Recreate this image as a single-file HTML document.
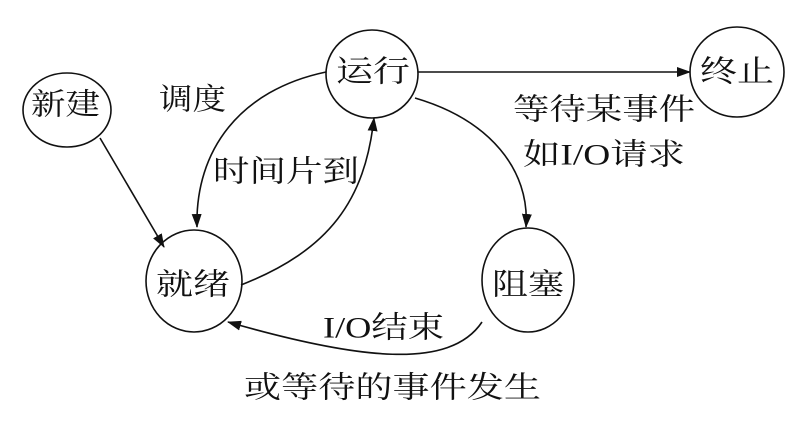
<!DOCTYPE html>
<html><head><meta charset="utf-8"><style>
html,body{margin:0;padding:0;background:#fff;}
svg{display:block;}
text{font-family:"Liberation Serif","Noto Serif CJK SC","Noto Sans CJK SC",serif;font-size:30px;fill:#111;}
</style></head><body>
<svg width="803" height="431" viewBox="0 0 803 431" xmlns="http://www.w3.org/2000/svg">
<defs><marker id="a" markerWidth="14" markerHeight="10" refX="13" refY="5" orient="auto" markerUnits="userSpaceOnUse"><path d="M0,0 L14,5 L0,10 Z" fill="#111"/></marker></defs>
<g fill="none" stroke="#111" stroke-width="1.6">
<ellipse cx="67" cy="110" rx="44" ry="37"/>
<ellipse cx="372" cy="74" rx="46" ry="44"/>
<ellipse cx="737" cy="72" rx="47" ry="45"/>
<ellipse cx="194" cy="281" rx="48" ry="51"/>
<ellipse cx="528" cy="280" rx="46" ry="52"/>
<path d="M100,138 L164,247" marker-end="url(#a)"/>
<path d="M418,72 L690,72" marker-end="url(#a)"/>
<path d="M326,72 C240,90 195,150 197,227" marker-end="url(#a)"/>
<path d="M241,285 C330,250 365,200 374,118" marker-end="url(#a)"/>
<path d="M415,98 C490,120 530,170 526,227" marker-end="url(#a)"/>
<path d="M482,322 C450,370 360,360 228,322" marker-end="url(#a)"/>
</g>
<g text-anchor="start" dominant-baseline="central" lengthAdjust="spacingAndGlyphs">
<text x="31" y="105" textLength="69" lengthAdjust="spacingAndGlyphs">新建</text>
<text x="336" y="72" textLength="74" lengthAdjust="spacingAndGlyphs">运行</text>
<text x="700" y="72" textLength="74" lengthAdjust="spacingAndGlyphs">终止</text>
<text x="156" y="285" textLength="74" lengthAdjust="spacingAndGlyphs">就绪</text>
<text x="492" y="285" textLength="72" lengthAdjust="spacingAndGlyphs">阻塞</text>
<text x="159" y="100" textLength="67" lengthAdjust="spacingAndGlyphs">调度</text>
<text x="213" y="172" textLength="146" lengthAdjust="spacingAndGlyphs">时间片到</text>
<text x="513" y="110" textLength="182" lengthAdjust="spacingAndGlyphs">等待某事件</text>
<text x="523" y="155" textLength="162" lengthAdjust="spacingAndGlyphs">如I/O请求</text>
<text x="323" y="328" textLength="121" lengthAdjust="spacingAndGlyphs">I/O结束</text>
<text x="244" y="388" textLength="297" lengthAdjust="spacingAndGlyphs">或等待的事件发生</text>
</g>
</svg>
</body></html>
